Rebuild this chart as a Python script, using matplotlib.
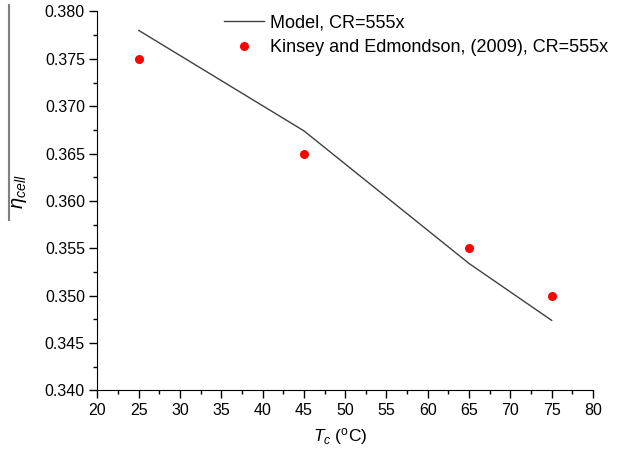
import matplotlib
matplotlib.use("Agg")
import matplotlib.pyplot as plt
from matplotlib.lines import Line2D
from matplotlib.ticker import MultipleLocator

plt.rcParams["font.family"] = ["Liberation Sans", "DejaVu Sans"]
plt.rcParams["mathtext.fontset"] = "custom"
plt.rcParams["mathtext.rm"] = "Liberation Sans"
plt.rcParams["mathtext.it"] = "Liberation Sans:italic"

# model curve
model_t = [25, 45, 65, 75]
model_eff = [0.3780, 0.3674, 0.3534, 0.3474]

# Kinsey and Edmondson (2009) measurements
exp_t = [25, 45, 65, 75]
exp_eff = [0.375, 0.365, 0.355, 0.350]

fig = plt.figure(figsize=(6.17, 4.55), dpi=100)
ax = fig.add_axes([0.158, 0.1418, 0.803, 0.833])

ax.plot(model_t, model_eff, color="#404040", lw=1.0, label="Model, CR=555x")
ax.plot(exp_t, exp_eff, "o", color="red", markersize=6.5, markeredgewidth=0,
        label="Kinsey and Edmondson, (2009), CR=555x")

ax.set_xlim(20, 80)
ax.set_ylim(0.340, 0.380)
ax.xaxis.set_major_locator(MultipleLocator(5))
ax.xaxis.set_minor_locator(MultipleLocator(2.5))
ax.yaxis.set_major_locator(MultipleLocator(0.005))
ax.yaxis.set_minor_locator(MultipleLocator(0.0025))
ax.yaxis.set_major_formatter(matplotlib.ticker.FormatStrFormatter("%.3f"))

ax.spines["top"].set_visible(False)
ax.spines["right"].set_visible(False)
ax.tick_params(which="major", direction="out", length=6, width=1, labelsize=11.5, pad=3)
ax.tick_params(which="minor", direction="out", length=3, width=1)

ax.set_xlabel(r"$T_c$ ($^{\rm o}$C)", fontsize=12.5, labelpad=7)
ax.xaxis.set_label_coords(0.49, -0.095)
ax.set_ylabel(r"$\eta_{cell}$", fontsize=14.5)
ax.yaxis.set_label_coords(-0.139, 0.524)

# long bar over the y label, as in the original
fig.add_artist(Line2D([9 / 617, 9 / 617], [1 - 5 / 455, 1 - 220 / 455],
                      color="#808080", lw=1.5))

ax.legend(loc="upper left", bbox_to_anchor=(224 / 617, 1 - 14 / 455),
          bbox_transform=fig.transFigure, frameon=False, fontsize=13,
          handlelength=2.2, handletextpad=0.35, labelspacing=0.45,
          borderpad=0, borderaxespad=0)

fig.savefig("out.png", dpi=100)
